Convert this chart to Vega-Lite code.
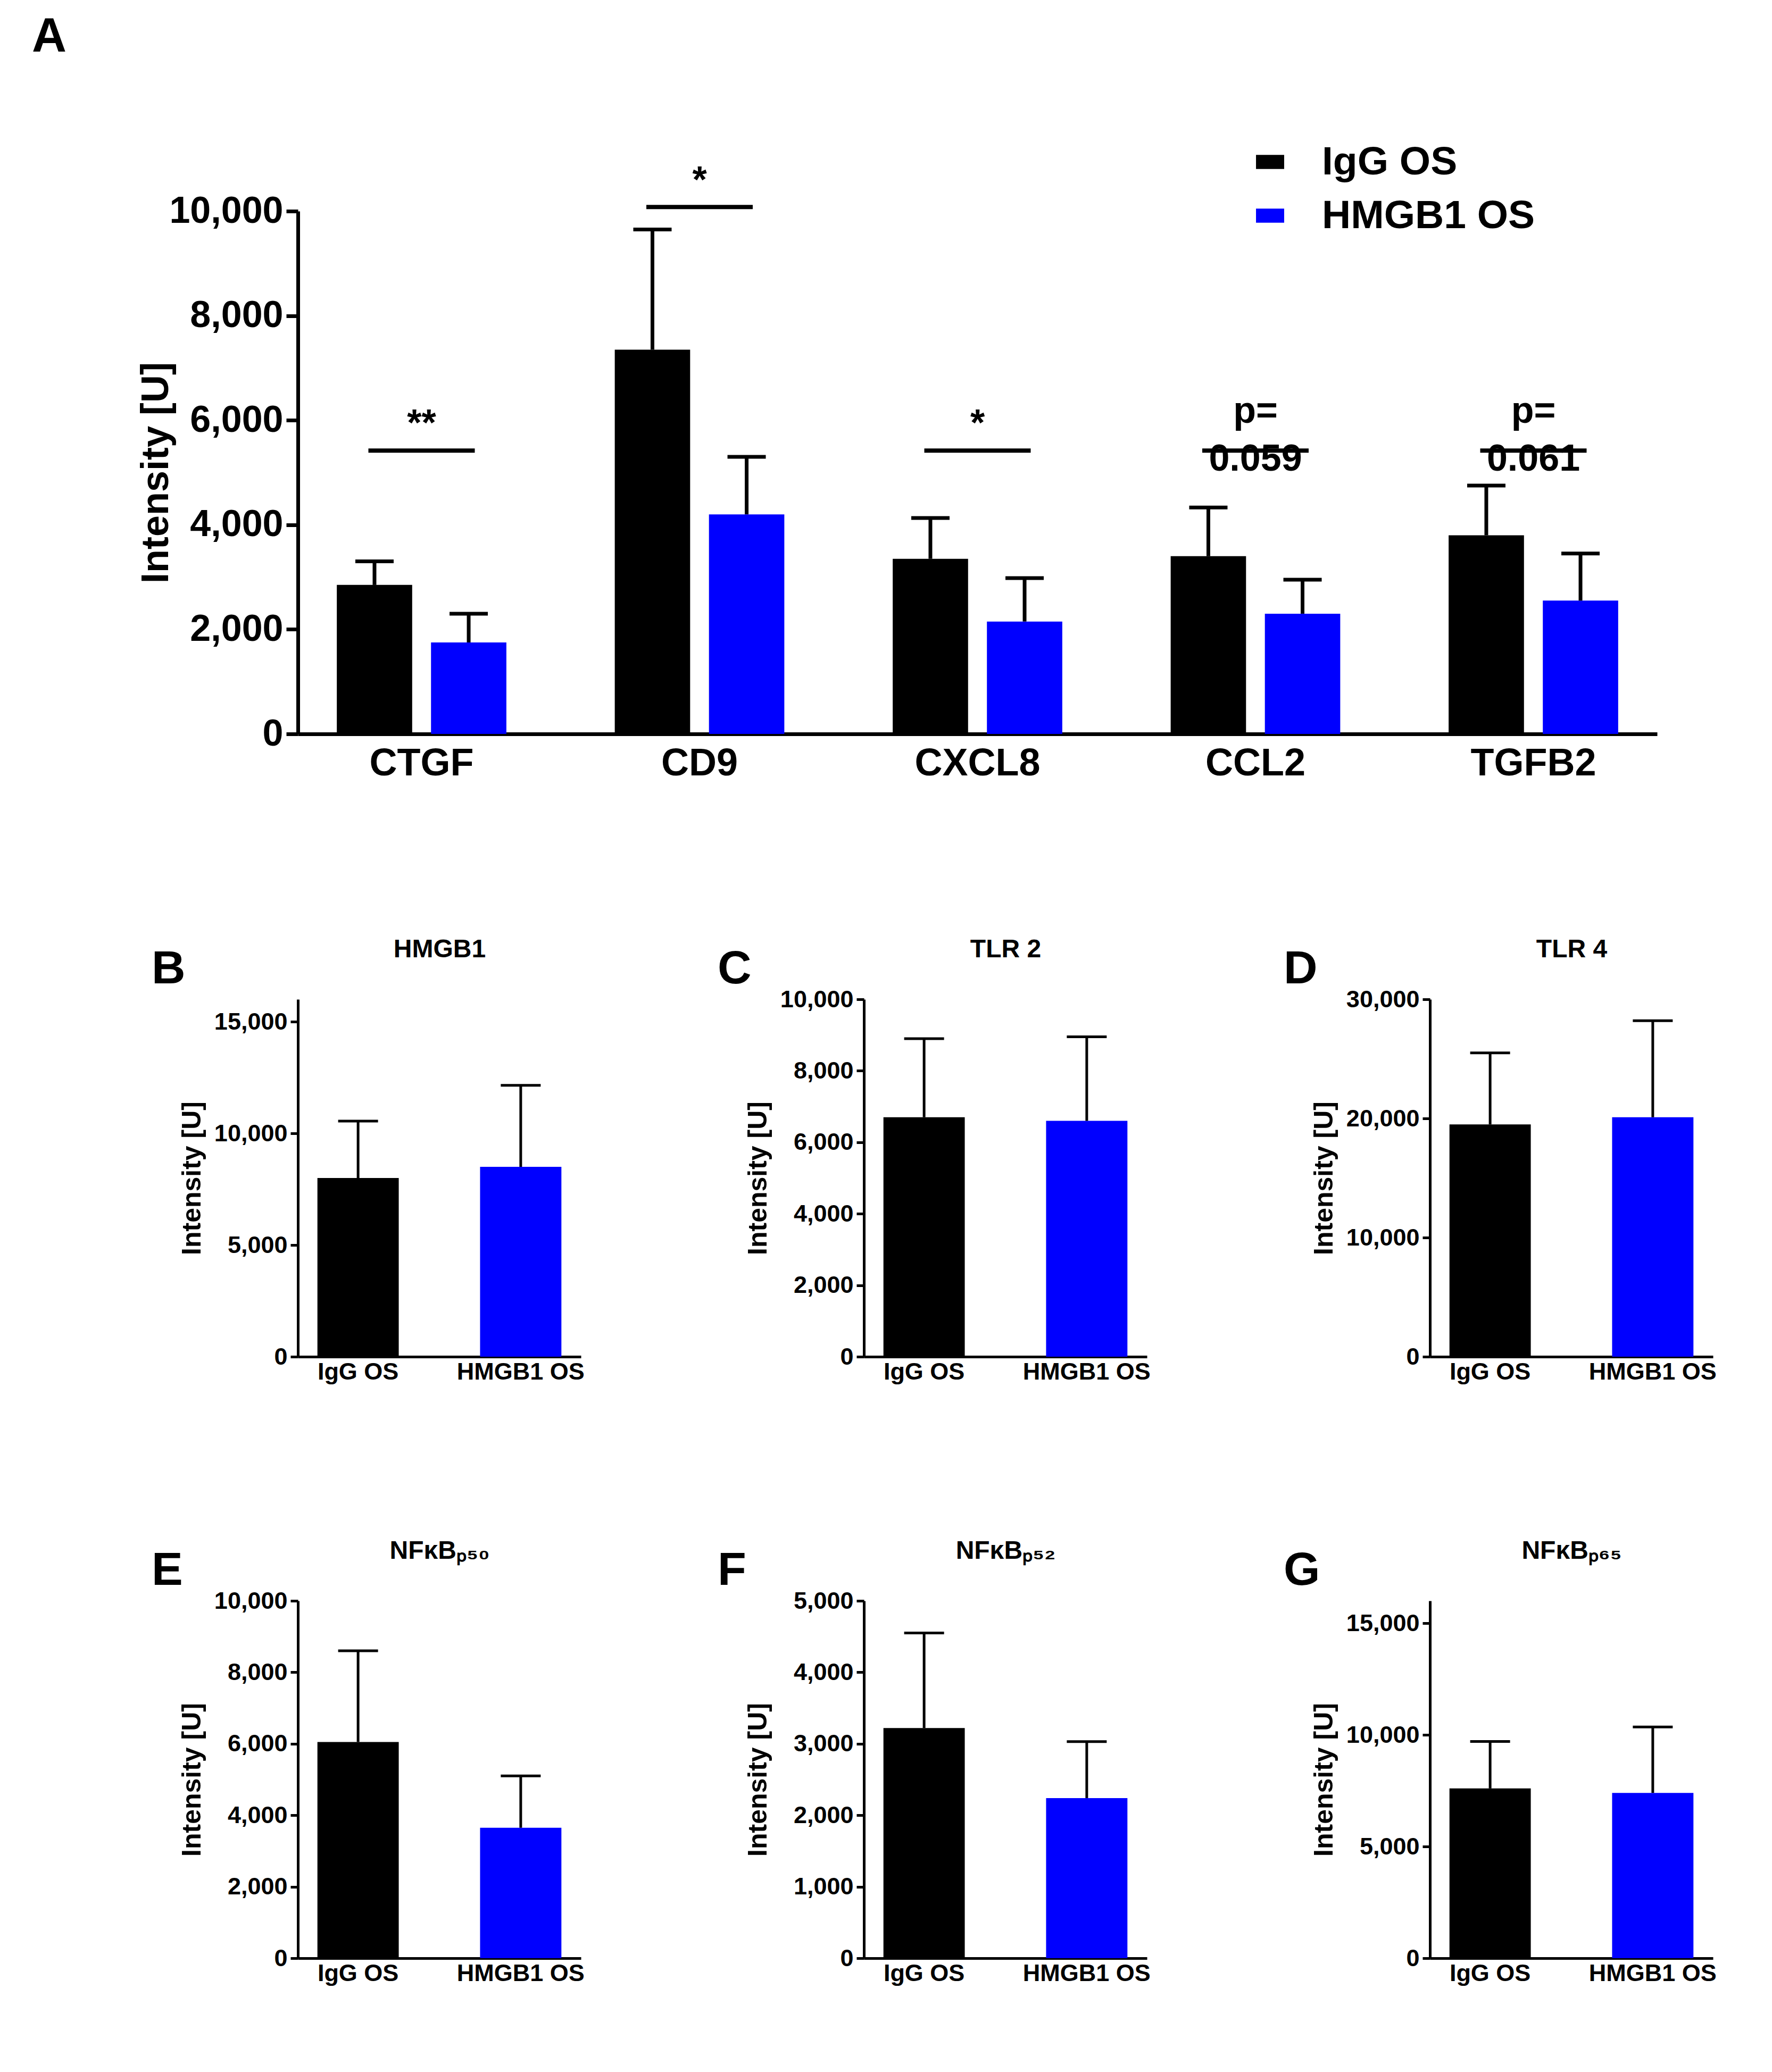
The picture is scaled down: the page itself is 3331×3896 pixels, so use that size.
{
"$schema":"https://vega.github.io/schema/vega-lite/v6.json",
"padding":{"left":60,"top":25,"right":20,"bottom":20},
"background":"white",
"config":{"view":{"stroke":null},"font":"Liberation Sans",
"axis":{"labelFont":"Liberation Sans","titleFont":"Liberation Sans","labelFontWeight":"bold","titleFontWeight":"bold","labelFontSize":45,"titleFontSize":50,"labelColor":"black","titleColor":"black","domainColor":"black","tickColor":"black","domainWidth":5,"tickWidth":5,"tickSize":14,"grid":false,"labelPadding":6,"labelLimit":0},
"legend":{"labelLimit":0},
"title":{"font":"Liberation Sans","fontWeight":"bold","color":"black"}},
"datasets":{
"small":[
{"panel":"B","group":"IgG OS","mean":8000,"hi":10550},{"panel":"B","group":"HMGB1 OS","mean":8500,"hi":12150},
{"panel":"C","group":"IgG OS","mean":6700,"hi":8900},{"panel":"C","group":"HMGB1 OS","mean":6600,"hi":8950},
{"panel":"D","group":"IgG OS","mean":19500,"hi":25500},{"panel":"D","group":"HMGB1 OS","mean":20100,"hi":28200},
{"panel":"E","group":"IgG OS","mean":6050,"hi":8600},{"panel":"E","group":"HMGB1 OS","mean":3650,"hi":5100},
{"panel":"F","group":"IgG OS","mean":3220,"hi":4550},{"panel":"F","group":"HMGB1 OS","mean":2240,"hi":3030},
{"panel":"G","group":"IgG OS","mean":7600,"hi":9700},{"panel":"G","group":"HMGB1 OS","mean":7400,"hi":10350}
],
"main":[
{"gene":"CTGF","group":"IgG OS","mean":2850,"hi":3300},{"gene":"CTGF","group":"HMGB1 OS","mean":1750,"hi":2300},
{"gene":"CD9","group":"IgG OS","mean":7350,"hi":9650},{"gene":"CD9","group":"HMGB1 OS","mean":4200,"hi":5300},
{"gene":"CXCL8","group":"IgG OS","mean":3350,"hi":4130},{"gene":"CXCL8","group":"HMGB1 OS","mean":2150,"hi":2980},
{"gene":"CCL2","group":"IgG OS","mean":3400,"hi":4330},{"gene":"CCL2","group":"HMGB1 OS","mean":2300,"hi":2950},
{"gene":"TGFB2","group":"IgG OS","mean":3800,"hi":4750},{"gene":"TGFB2","group":"HMGB1 OS","mean":2550,"hi":3450}
],
"sig":[
{"gene":"CTGF","y":5420,"ty":5550,"label":"**"},
{"gene":"CD9","y":10080,"ty":10200,"label":"*"},
{"gene":"CXCL8","y":5420,"ty":5550,"label":"*"},
{"gene":"CCL2","y":5420,"ty":5800,"label":"p=\n0.059"},
{"gene":"TGFB2","y":5420,"ty":5800,"label":"p=\n0.061"}
]},
"spacing":290,
"vconcat":[
{"width":2555,"height":983,
"title":{"text":"A","anchor":"start","frame":"group","fontSize":90,"dx":-500,"offset":190},
"layer":[
{"data":{"name":"main"},"mark":{"type":"bar"},
"encoding":{"x":{"field":"gene","type":"nominal","sort":["CTGF","CD9","CXCL8","CCL2","TGFB2"],"scale":{"paddingInner":0.39,"paddingOuter":0.14},"axis":{"title":null,"labelAngle":0,"labelFontSize":72,"ticks":false,"domainWidth":7,"labelPadding":20}},
"xOffset":{"field":"group","sort":["IgG OS","HMGB1 OS"],"scale":{"paddingInner":0.2}},
"y":{"field":"mean","type":"quantitative","scale":{"domain":[0,10000]},"axis":{"title":"Intensity [U]","values":[0,2000,4000,6000,8000,10000],"labelFontSize":70,"titleFontSize":72,"domainWidth":7,"tickWidth":7,"tickSize":22,"titlePadding":30}},
"color":{"field":"group","type":"nominal","sort":["IgG OS","HMGB1 OS"],"scale":{"domain":["IgG OS","HMGB1 OS"],"range":["#000000","#0000ff"]},
"legend":{"title":null,"orient":"none","legendX":1790,"legendY":-130,"labelFontSize":75,"labelFont":"Liberation Sans","labelFontWeight":"bold","labelColor":"black","labelLimit":0,"symbolType":"M-1,-0.5h2v1h-2z","symbolSize":2800,"symbolStrokeWidth":0,"rowPadding":25,"labelOffset":60}}}},
{"data":{"name":"main"},"mark":{"type":"rule","strokeWidth":7,"color":"black"},
"encoding":{"x":{"field":"gene","type":"nominal","sort":["CTGF","CD9","CXCL8","CCL2","TGFB2"]},"xOffset":{"field":"group","sort":["IgG OS","HMGB1 OS"]},"y":{"field":"mean","type":"quantitative"},"y2":{"field":"hi"}}},
{"data":{"name":"main"},"mark":{"type":"tick","size":72,"thickness":7,"color":"black","opacity":1},
"encoding":{"x":{"field":"gene","type":"nominal","sort":["CTGF","CD9","CXCL8","CCL2","TGFB2"]},"xOffset":{"field":"group","sort":["IgG OS","HMGB1 OS"]},"y":{"field":"hi","type":"quantitative"}}},
{"data":{"name":"sig"},"mark":{"type":"tick","size":200,"thickness":8,"color":"black","opacity":1},
"encoding":{"x":{"field":"gene","type":"nominal","sort":["CTGF","CD9","CXCL8","CCL2","TGFB2"]},"y":{"field":"y","type":"quantitative"}}},
{"data":{"name":"sig"},"mark":{"type":"text","baseline":"bottom","fontSize":70,"fontWeight":"bold","font":"Liberation Sans","lineBreak":"\n","lineHeight":90,"color":"black"},
"encoding":{"x":{"field":"gene","type":"nominal","sort":["CTGF","CD9","CXCL8","CCL2","TGFB2"]},"y":{"field":"ty","type":"quantitative"},"text":{"field":"label"}}}
]},
{"hconcat":[
{"width":532,"height":672,"title":{"text":"B","anchor":"start","frame":"group","fontSize":88,"dx":-275,"dy":110},"data":{"name":"small"},"transform":[{"filter":"datum.panel=='B'"}],
"layer":[
{"mark":"bar","encoding":{"x":{"field":"group","type":"nominal","sort":["IgG OS","HMGB1 OS"],"scale":{"paddingInner":0.5,"paddingOuter":0.12},"axis":{"title":null,"labelAngle":0,"ticks":false}},"y":{"field":"mean","type":"quantitative","scale":{"domain":[0,15000]},"axis":{"title":"Intensity [U]","values":[0,5000,10000,15000],"minExtent":170}},"color":{"field":"group","scale":{"domain":["IgG OS","HMGB1 OS"],"range":["#000000","#0000ff"]},"legend":null}}},
{"mark":{"type":"rule","strokeWidth":5,"color":"black"},"encoding":{"x":{"field":"group","type":"nominal","sort":["IgG OS","HMGB1 OS"],"axis":{"orient":"top","title":"HMGB1","titleFontSize":48,"labels":false,"ticks":false,"domain":false,"titlePadding":70}},"y":{"field":"mean","type":"quantitative"},"y2":{"field":"hi"}}},
{"mark":{"type":"tick","size":75,"thickness":5,"color":"black","opacity":1},"encoding":{"x":{"field":"group","type":"nominal","sort":["IgG OS","HMGB1 OS"],"axis":null},"y":{"field":"hi","type":"quantitative"}}}
],"resolve":{"axis":{"x":"independent"}}},
{"width":532,"height":672,"title":{"text":"C","anchor":"start","frame":"group","fontSize":88,"dx":-275,"dy":110},"data":{"name":"small"},"transform":[{"filter":"datum.panel=='C'"}],
"layer":[
{"mark":"bar","encoding":{"x":{"field":"group","type":"nominal","sort":["IgG OS","HMGB1 OS"],"scale":{"paddingInner":0.5,"paddingOuter":0.12},"axis":{"title":null,"labelAngle":0,"ticks":false}},"y":{"field":"mean","type":"quantitative","scale":{"domain":[0,10000]},"axis":{"title":"Intensity [U]","values":[0,2000,4000,6000,8000,10000],"minExtent":170}},"color":{"field":"group","scale":{"domain":["IgG OS","HMGB1 OS"],"range":["#000000","#0000ff"]},"legend":null}}},
{"mark":{"type":"rule","strokeWidth":5,"color":"black"},"encoding":{"x":{"field":"group","type":"nominal","sort":["IgG OS","HMGB1 OS"],"axis":{"orient":"top","title":"TLR 2","titleFontSize":48,"labels":false,"ticks":false,"domain":false,"titlePadding":70}},"y":{"field":"mean","type":"quantitative"},"y2":{"field":"hi"}}},
{"mark":{"type":"tick","size":75,"thickness":5,"color":"black","opacity":1},"encoding":{"x":{"field":"group","type":"nominal","sort":["IgG OS","HMGB1 OS"],"axis":null},"y":{"field":"hi","type":"quantitative"}}}
],"resolve":{"axis":{"x":"independent"}}},
{"width":532,"height":672,"title":{"text":"D","anchor":"start","frame":"group","fontSize":88,"dx":-275,"dy":110},"data":{"name":"small"},"transform":[{"filter":"datum.panel=='D'"}],
"layer":[
{"mark":"bar","encoding":{"x":{"field":"group","type":"nominal","sort":["IgG OS","HMGB1 OS"],"scale":{"paddingInner":0.5,"paddingOuter":0.12},"axis":{"title":null,"labelAngle":0,"ticks":false}},"y":{"field":"mean","type":"quantitative","scale":{"domain":[0,30000]},"axis":{"title":"Intensity [U]","values":[0,10000,20000,30000],"minExtent":170}},"color":{"field":"group","scale":{"domain":["IgG OS","HMGB1 OS"],"range":["#000000","#0000ff"]},"legend":null}}},
{"mark":{"type":"rule","strokeWidth":5,"color":"black"},"encoding":{"x":{"field":"group","type":"nominal","sort":["IgG OS","HMGB1 OS"],"axis":{"orient":"top","title":"TLR 4","titleFontSize":48,"labels":false,"ticks":false,"domain":false,"titlePadding":70}},"y":{"field":"mean","type":"quantitative"},"y2":{"field":"hi"}}},
{"mark":{"type":"tick","size":75,"thickness":5,"color":"black","opacity":1},"encoding":{"x":{"field":"group","type":"nominal","sort":["IgG OS","HMGB1 OS"],"axis":null},"y":{"field":"hi","type":"quantitative"}}}
],"resolve":{"axis":{"x":"independent"}}}
],"spacing":250},
{"hconcat":[
{"width":532,"height":672,"title":{"text":"E","anchor":"start","frame":"group","fontSize":88,"dx":-275,"dy":110},"data":{"name":"small"},"transform":[{"filter":"datum.panel=='E'"}],
"layer":[
{"mark":"bar","encoding":{"x":{"field":"group","type":"nominal","sort":["IgG OS","HMGB1 OS"],"scale":{"paddingInner":0.5,"paddingOuter":0.12},"axis":{"title":null,"labelAngle":0,"ticks":false}},"y":{"field":"mean","type":"quantitative","scale":{"domain":[0,10000]},"axis":{"title":"Intensity [U]","values":[0,2000,4000,6000,8000,10000],"minExtent":170}},"color":{"field":"group","scale":{"domain":["IgG OS","HMGB1 OS"],"range":["#000000","#0000ff"]},"legend":null}}},
{"mark":{"type":"rule","strokeWidth":5,"color":"black"},"encoding":{"x":{"field":"group","type":"nominal","sort":["IgG OS","HMGB1 OS"],"axis":{"orient":"top","title":"NFκBₚ₅₀","titleFontSize":48,"labels":false,"ticks":false,"domain":false,"titlePadding":70}},"y":{"field":"mean","type":"quantitative"},"y2":{"field":"hi"}}},
{"mark":{"type":"tick","size":75,"thickness":5,"color":"black","opacity":1},"encoding":{"x":{"field":"group","type":"nominal","sort":["IgG OS","HMGB1 OS"],"axis":null},"y":{"field":"hi","type":"quantitative"}}}
],"resolve":{"axis":{"x":"independent"}}},
{"width":532,"height":672,"title":{"text":"F","anchor":"start","frame":"group","fontSize":88,"dx":-275,"dy":110},"data":{"name":"small"},"transform":[{"filter":"datum.panel=='F'"}],
"layer":[
{"mark":"bar","encoding":{"x":{"field":"group","type":"nominal","sort":["IgG OS","HMGB1 OS"],"scale":{"paddingInner":0.5,"paddingOuter":0.12},"axis":{"title":null,"labelAngle":0,"ticks":false}},"y":{"field":"mean","type":"quantitative","scale":{"domain":[0,5000]},"axis":{"title":"Intensity [U]","values":[0,1000,2000,3000,4000,5000],"minExtent":170}},"color":{"field":"group","scale":{"domain":["IgG OS","HMGB1 OS"],"range":["#000000","#0000ff"]},"legend":null}}},
{"mark":{"type":"rule","strokeWidth":5,"color":"black"},"encoding":{"x":{"field":"group","type":"nominal","sort":["IgG OS","HMGB1 OS"],"axis":{"orient":"top","title":"NFκBₚ₅₂","titleFontSize":48,"labels":false,"ticks":false,"domain":false,"titlePadding":70}},"y":{"field":"mean","type":"quantitative"},"y2":{"field":"hi"}}},
{"mark":{"type":"tick","size":75,"thickness":5,"color":"black","opacity":1},"encoding":{"x":{"field":"group","type":"nominal","sort":["IgG OS","HMGB1 OS"],"axis":null},"y":{"field":"hi","type":"quantitative"}}}
],"resolve":{"axis":{"x":"independent"}}},
{"width":532,"height":672,"title":{"text":"G","anchor":"start","frame":"group","fontSize":88,"dx":-275,"dy":110},"data":{"name":"small"},"transform":[{"filter":"datum.panel=='G'"}],
"layer":[
{"mark":"bar","encoding":{"x":{"field":"group","type":"nominal","sort":["IgG OS","HMGB1 OS"],"scale":{"paddingInner":0.5,"paddingOuter":0.12},"axis":{"title":null,"labelAngle":0,"ticks":false}},"y":{"field":"mean","type":"quantitative","scale":{"domain":[0,15000]},"axis":{"title":"Intensity [U]","values":[0,5000,10000,15000],"minExtent":170}},"color":{"field":"group","scale":{"domain":["IgG OS","HMGB1 OS"],"range":["#000000","#0000ff"]},"legend":null}}},
{"mark":{"type":"rule","strokeWidth":5,"color":"black"},"encoding":{"x":{"field":"group","type":"nominal","sort":["IgG OS","HMGB1 OS"],"axis":{"orient":"top","title":"NFκBₚ₆₅","titleFontSize":48,"labels":false,"ticks":false,"domain":false,"titlePadding":70}},"y":{"field":"mean","type":"quantitative"},"y2":{"field":"hi"}}},
{"mark":{"type":"tick","size":75,"thickness":5,"color":"black","opacity":1},"encoding":{"x":{"field":"group","type":"nominal","sort":["IgG OS","HMGB1 OS"],"axis":null},"y":{"field":"hi","type":"quantitative"}}}
],"resolve":{"axis":{"x":"independent"}}}
],"spacing":250}
]}
